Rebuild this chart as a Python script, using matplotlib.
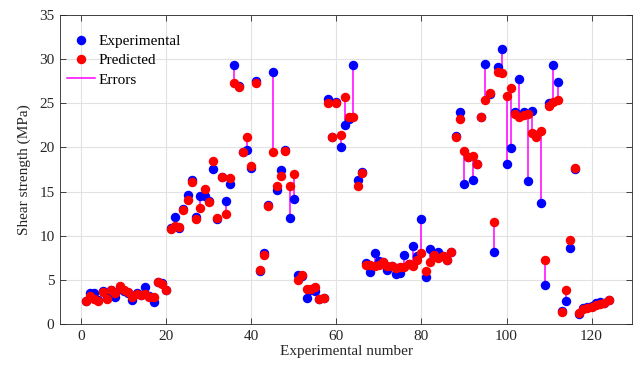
import numpy as np
import matplotlib
matplotlib.use("Agg")
import matplotlib.pyplot as plt
from matplotlib.lines import Line2D

# Shear strength of each specimen (MPa): test result and model prediction
sample_no = np.arange(1, 125)

experimental = [
    2.60, 3.50, 3.50, 2.70, 3.70, 2.90, 3.80, 3.10, 4.00, 3.70,
    3.50, 2.75, 3.50, 3.30, 4.15, 3.20, 2.47, 4.80, 4.70, 3.80,
    10.90, 12.17, 10.90, 13.00, 14.57, 16.30, 12.10, 14.50, 14.45, 13.90,
    17.60, 11.90, 16.70, 13.95, 15.85, 29.36, 27.00, 19.43, 19.66, 17.70,
    27.55, 6.00, 8.00, 13.50, 28.60, 15.20, 17.40, 19.66, 12.00, 14.20,
    5.50, 5.40, 2.90, 3.90, 3.77, 2.85, 2.90, 25.50, 21.20, 25.10,
    20.00, 22.50, 23.20, 29.30, 16.30, 17.20, 6.90, 5.90, 8.00, 7.10,
    7.00, 6.15, 6.60, 5.66, 5.77, 7.77, 6.80, 8.80, 7.66, 11.90,
    5.32, 8.50, 7.85, 8.20, 7.66, 7.28, 8.10, 21.30, 23.96, 15.90,
    18.90, 16.26, 18.15, 23.40, 29.45, 26.00, 8.20, 29.06, 31.10, 18.15,
    19.90, 24.00, 27.80, 24.00, 16.20, 24.07, 21.40, 13.70, 4.38, 25.00,
    29.30, 27.40, 1.50, 2.57, 8.60, 17.55, 1.10, 1.80, 1.90, 2.00,
    2.40, 2.45, 2.38, 2.68,
]

predicted = [
    2.55, 3.20, 2.85, 2.66, 3.68, 2.85, 3.80, 3.55, 4.25, 3.80,
    3.57, 3.05, 3.45, 3.30, 3.40, 3.10, 3.04, 4.80, 4.55, 3.80,
    10.74, 11.10, 11.00, 12.90, 14.06, 16.10, 11.87, 13.10, 15.30, 13.80,
    18.50, 12.00, 16.70, 12.50, 16.50, 27.30, 26.90, 19.43, 21.20, 17.85,
    27.30, 6.13, 7.80, 13.40, 19.50, 15.60, 16.80, 19.55, 15.65, 17.00,
    5.00, 5.57, 3.92, 3.95, 4.20, 2.83, 2.90, 25.00, 21.15, 25.00,
    21.40, 25.75, 23.50, 23.50, 15.60, 17.10, 6.70, 6.70, 6.60, 6.70,
    6.98, 6.53, 6.60, 6.34, 6.40, 6.45, 6.80, 6.53, 7.30, 8.04,
    6.04, 7.00, 7.85, 7.47, 7.66, 7.28, 8.15, 21.20, 23.25, 19.63,
    18.88, 19.05, 18.15, 23.40, 25.35, 26.20, 11.55, 28.50, 28.40, 25.85,
    26.70, 23.80, 23.40, 23.70, 23.77, 21.60, 21.20, 21.90, 7.28, 24.70,
    25.20, 25.40, 1.40, 3.80, 9.47, 17.66, 1.20, 1.75, 1.80, 1.90,
    2.20, 2.30, 2.35, 2.75,
]

x_ticks = [0, 20, 40, 60, 80, 100, 120]
y_ticks = [0, 5, 10, 15, 20, 25, 30, 35]

plt.rcParams['font.family'] = ['Liberation Serif', 'DejaVu Serif']
plt.rcParams['font.size'] = 11

fig = plt.figure(figsize=(6.38, 3.66), dpi=100)
ax = fig.add_axes([60 / 638, 1 - 324 / 366, 572 / 638, 309 / 366])

ax.vlines(sample_no, experimental, predicted, colors='#ff00ff', lw=1.1, zorder=2)
ax.plot(sample_no, experimental, 'o', color='#0000ff', ms=5.8, ls='none', zorder=3)
ax.plot(sample_no, predicted, 'o', color='#ff0000', ms=5.8, ls='none', zorder=4)

ax.set_xlim(-5, 129.5)
ax.set_ylim(0, 35)
ax.set_xticks(x_ticks)
ax.set_yticks(y_ticks)
ax.grid(True, color='#e2e2e2', lw=0.8)
ax.set_axisbelow(True)
ax.tick_params(direction='in', top=True, right=True, length=4, width=0.6,
               colors='#262626', labelsize=11, pad=4)
for sp in ax.spines.values():
    sp.set_color('#262626')
    sp.set_linewidth(0.6)

ax.set_xlabel('Experimental number', fontsize=11, labelpad=2, color='#262626')
ax.set_ylabel('Shear strength (MPa)', fontsize=11, labelpad=6, color='#262626')

handles = [
    Line2D([], [], marker='o', color='#0000ff', ls='none', ms=5.8),
    Line2D([], [], marker='o', color='#ff0000', ls='none', ms=5.8),
    Line2D([], [], color='#ff00ff', lw=1.1),
]
ax.legend(handles, ['Experimental', 'Predicted', 'Errors'], loc='upper left',
          bbox_to_anchor=(0.012, 0.937), frameon=False, borderpad=0,
          borderaxespad=0, handlelength=1.85, handletextpad=0.25,
          labelspacing=0.36, fontsize=11)

fig.savefig('out.png', dpi=100)
